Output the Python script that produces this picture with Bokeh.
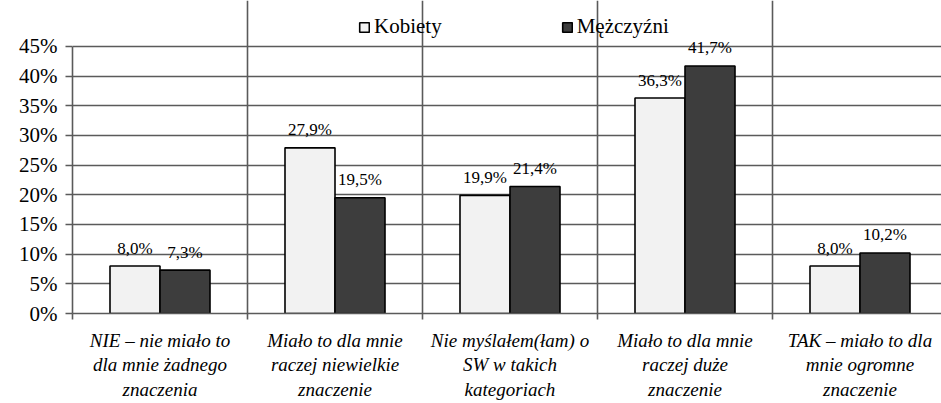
from bokeh.plotting import figure
from bokeh.models import (ColumnDataSource, FixedTicker, LinearAxis, Range1d, Legend,
                          LegendItem, PrintfTickFormatter, Grid)
from bokeh.transform import dodge
from bokeh.core.properties import value
from bokeh.embed import file_html
from bokeh.resources import INLINE

categories = [
    "NIE – nie miało to\ndla mnie żadnego\nznaczenia",
    "Miało to dla mnie\nraczej niewielkie\nznaczenie",
    "Nie myślałem(łam) o\nSW w takich\nkategoriach",
    "Miało to dla mnie\nraczej duże\nznaczenie",
    "TAK – miało to dla\nmnie ogromne\nznaczenie",
]
kobiety = [8.0, 27.9, 19.9, 36.3, 8.0]
mezczyzni = [7.3, 19.5, 21.4, 41.7, 10.2]
series_names = ["Kobiety", "Mężczyźni"]
y_ticks = [0, 5, 10, 15, 20, 25, 30, 35, 40, 45]

FONT = "Liberation Serif"
GRID = "#5a5a5a"

pos = list(range(1, len(categories) + 1))
dividers = [i - 0.5 for i in pos] + [pos[-1] + 0.5]

def fmt(v):
    return f"{v:.1f}%".replace(".", ",")

src = ColumnDataSource(dict(
    x=pos, k=kobiety, m=mezczyzni,
    kl=[fmt(v) for v in kobiety], ml=[fmt(v) for v in mezczyzni],
))

W, H = 941, 403
LEFT, BOTTOM, TOP_PAD = 72, 89, 46
frame_h = H - BOTTOM
bw = 50 / 175
y_top = y_ticks[-1]

p = figure(width=W, height=H, output_backend="svg", toolbar_location=None,
           x_range=Range1d(0.5, 0.5 + (W - LEFT) / 175),
           y_range=Range1d(0, y_top * frame_h / (frame_h - TOP_PAD)),
           x_axis_type=None, min_border_left=LEFT, min_border_right=0,
           min_border_top=0, min_border_bottom=BOTTOM)
p.outline_line_color = None
p.background_fill_color = "white"
p.border_fill_color = "white"

# grids
p.ygrid.ticker = FixedTicker(ticks=y_ticks)
p.ygrid.grid_line_color = GRID
p.ygrid.grid_line_width = 1.6
p.add_layout(Grid(dimension=0, ticker=FixedTicker(ticks=dividers), bounds=(0, y_top),
                  grid_line_color=GRID, grid_line_width=1.6))

# y axis
p.yaxis.bounds = (0, y_top)
p.yaxis.ticker = FixedTicker(ticks=y_ticks)
p.yaxis.formatter = PrintfTickFormatter(format="%d%%")
p.yaxis.major_tick_out = 7
p.yaxis.major_tick_in = 0
p.yaxis.minor_tick_line_color = None
p.yaxis.major_tick_line_color = GRID
p.yaxis.major_tick_line_width = 1.6
p.yaxis.axis_line_color = GRID
p.yaxis.axis_line_width = 1.6
p.yaxis.major_label_text_font = FONT
p.yaxis.major_label_text_font_size = "21px"
p.yaxis.major_label_text_color = "black"
p.yaxis.major_label_standoff = 8

# x axis
xaxis = LinearAxis(
    ticker=FixedTicker(ticks=pos, minor_ticks=dividers),
    major_label_overrides={i: c for i, c in zip(pos, categories)},
    major_tick_line_color=None, major_tick_out=0, major_tick_in=0,
    minor_tick_out=6, minor_tick_in=0, minor_tick_line_color=GRID,
    minor_tick_line_width=1.6, axis_line_color=GRID, axis_line_width=1.6,
    major_label_text_font=FONT, major_label_text_font_style="italic",
    major_label_text_font_size="19px", major_label_text_color="black",
    major_label_text_line_height=1.18, major_label_standoff=10,
)
p.add_layout(xaxis, "below")

r1 = p.vbar(x=dodge("x", -bw / 2, range=p.x_range), top="k", width=bw, source=src,
            fill_color="#f2f2f2", line_color="black", line_width=1.6)
r2 = p.vbar(x=dodge("x", bw / 2, range=p.x_range), top="m", width=bw, source=src,
            fill_color="#3d3d3d", line_color="black", line_width=1.6)

for off, col, lab in [(-bw / 2, "k", "kl"), (bw / 2, "m", "ml")]:
    p.text(x=dodge("x", off, range=p.x_range), y=col, text=lab, source=src,
           text_align="center", text_baseline="alphabetic", y_offset=-18,
           text_font=value(FONT), text_font_size="17px", text_color="black")

legend = Legend(items=[LegendItem(label=series_names[0], renderers=[r1]),
                       LegendItem(label=series_names[1], renderers=[r2])],
                orientation="horizontal", location=(286, frame_h - 40), spacing=119,
                glyph_width=12, glyph_height=12, label_standoff=4,
                label_text_font=FONT, label_text_font_size="21px",
                label_text_color="black", border_line_color=None,
                background_fill_alpha=0, padding=4, margin=0)
p.add_layout(legend, "center")

open("out.html", "w", encoding="utf-8").write(file_html(p, INLINE))
